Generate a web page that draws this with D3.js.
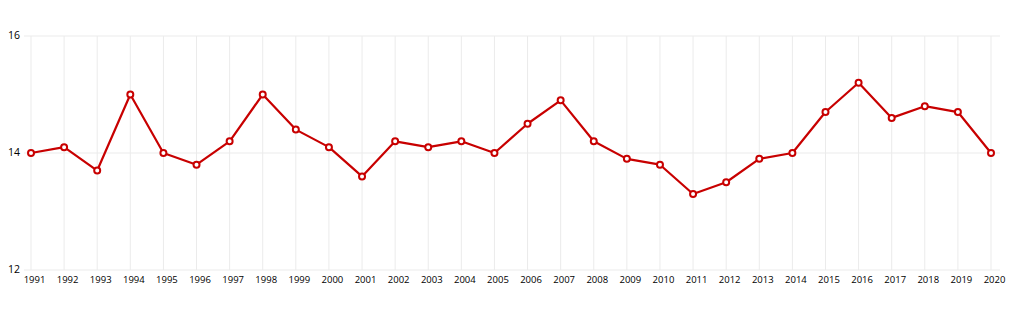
<!DOCTYPE html>
<html>
<head>
<meta charset="utf-8">
<script src="https://cdn.jsdelivr.net/npm/d3@7"></script>
<style>
body { margin: 0; background: #fff; }
svg text { font-family: "Open Sans", sans-serif; font-size: 9.5px; fill: #000; }
</style>
</head>
<body>
<div id="chart"></div>
<script>
var years = [1991, 1992, 1993, 1994, 1995, 1996, 1997, 1998, 1999, 2000,
  2001, 2002, 2003, 2004, 2005, 2006, 2007, 2008, 2009, 2010,
  2011, 2012, 2013, 2014, 2015, 2016, 2017, 2018, 2019, 2020];
var values = [14.0, 14.1, 13.7, 15.0, 14.0, 13.8, 14.2, 15.0, 14.4, 14.1,
  13.6, 14.2, 14.1, 14.2, 14.0, 14.5, 14.9, 14.2, 13.9, 13.8,
  13.3, 13.5, 13.9, 14.0, 14.7, 15.2, 14.6, 14.8, 14.7, 14.0];
var yTicks = [12, 14, 16];

var w = 1016, h = 312;
var margins = {top: 36, bottom: 42, left: 31, right: 25};

var svg = d3.select("#chart").append("svg")
  .attr("width", w)
  .attr("height", h);

var xScale = d3.scalePoint()
  .domain(years)
  .range([margins.left, w - margins.right]);
var yScale = d3.scaleLinear()
  .domain([12, 16])
  .range([h - margins.bottom, margins.top]);

// grid
svg.append("g")
  .selectAll("line")
  .data(years)
  .enter()
  .append("line")
  .attr("x1", function(d){ return xScale(d); })
  .attr("x2", function(d){ return xScale(d); })
  .attr("y1", yScale(16))
  .attr("y2", yScale(12))
  .attr("stroke", "#ebebeb")
  .attr("stroke-width", 1);

svg.append("g")
  .selectAll("line")
  .data(yTicks)
  .enter()
  .append("line")
  .attr("x1", 24)
  .attr("x2", 1000)
  .attr("y1", function(d){ return yScale(d); })
  .attr("y2", function(d){ return yScale(d); })
  .attr("stroke", "#ebebeb")
  .attr("stroke-width", 1);

// axes
var yAxis = d3.axisLeft(yScale).tickValues(yTicks).tickFormat(d3.format("d")).tickSize(0).tickPadding(0);
svg.append("g")
  .attr("transform", "translate(20,0)")
  .call(yAxis)
  .call(function(g){ g.select(".domain").remove(); })
  .selectAll("text").attr("dy", "0.2em").style("font-size", "10.5px");

var xAxis = d3.axisBottom(xScale).tickFormat(d3.format("d")).tickSize(0).tickPadding(0);
svg.append("g")
  .attr("transform", "translate(3," + (yScale(12) + 4) + ")")
  .call(xAxis)
  .call(function(g){ g.select(".domain").remove(); })
  .selectAll("text").attr("dy", "0.9em");

// line
var line = d3.line()
  .x(function(d, i){ return xScale(years[i]); })
  .y(function(d){ return yScale(d); });

svg.append("path")
  .datum(values)
  .attr("d", line)
  .attr("fill", "none")
  .attr("stroke", "#c80000")
  .attr("stroke-width", 2.2)
  .attr("stroke-linejoin", "round");

svg.append("g")
  .selectAll("circle")
  .data(values)
  .enter()
  .append("circle")
  .attr("cx", function(d, i){ return xScale(years[i]); })
  .attr("cy", function(d){ return yScale(d); })
  .attr("r", 3)
  .attr("fill", "#fff")
  .attr("stroke", "#c80000")
  .attr("stroke-width", 2);
</script>
</body>
</html>
